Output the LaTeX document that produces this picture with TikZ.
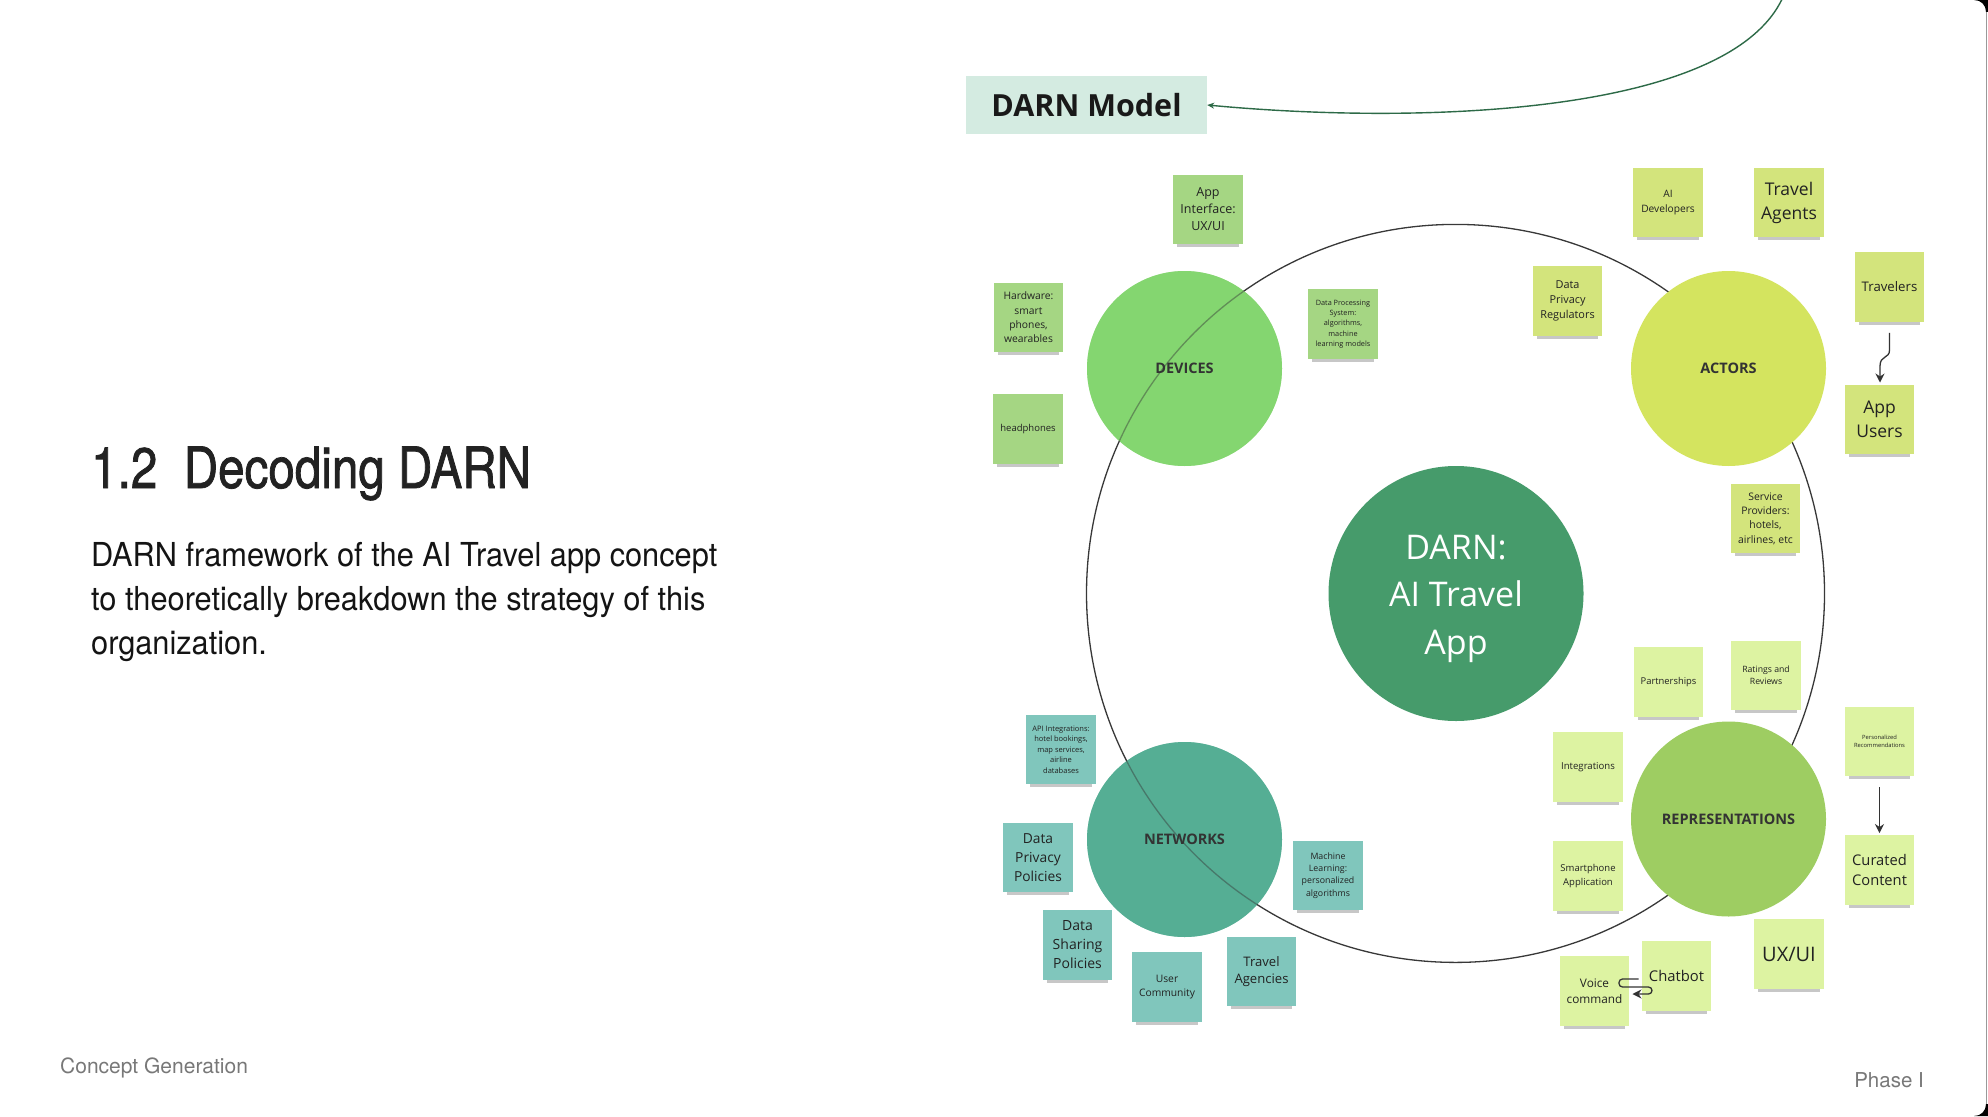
\documentclass[tikz,border=0pt]{standalone}
\usepackage{fontspec}
\setmainfont{Open Sans}
\newfontfamily\headfont[FakeStretch=0.835,FakeBold=1.3]{TeX Gyre Heros}
\newfontfamily\bodyfont[FakeStretch=0.932]{TeX Gyre Heros}
\newfontfamily\footfont{TeX Gyre Heros}
\usetikzlibrary{shadows,arrows.meta,calc}
\definecolor{devc}{RGB}{132,214,112}
\definecolor{actc}{RGB}{212,228,95}
\definecolor{netc}{RGB}{85,174,148}
\definecolor{repc}{RGB}{158,205,98}
\definecolor{darnc}{RGB}{70,155,107}
\definecolor{devs}{RGB}{165,214,131}
\definecolor{acts}{RGB}{211,228,124}
\definecolor{nets}{RGB}{128,198,188}
\definecolor{reps}{RGB}{221,243,162}
\definecolor{dmbox}{RGB}{212,235,225}
\definecolor{curvec}{RGB}{45,106,71}
\definecolor{inkc}{RGB}{34,34,34}
\definecolor{footc}{RGB}{120,120,120}
\newcommand{\stfs}[2]{\fontsize{#1}{#2}\selectfont}
\begin{document}
\begin{tikzpicture}[x=1pt,y=-1pt,
  sticky/.style={rectangle, minimum width=69.5pt, minimum height=69.5pt, inner sep=1pt,
    align=center, text=inkc,
    drop shadow={shadow xshift=0pt, shadow yshift=-8pt, shadow scale=0.88, opacity=0.22, fill=black}},
  hub/.style={circle, minimum size=195pt, inner sep=0pt, text=black!80,
    font=\bfseries\stfs{14.5}{17}},
  blackarr/.style={draw=black!80, line width=1.3pt, -{Stealth[length=9pt,width=9pt]}},
  curvearr/.style={draw=curvec, line width=1.4pt, -{Stealth[length=7pt,width=6pt]}}
]
\useasboundingbox (0,0) rectangle (1988,1116);
\fill[white] (0,0) rectangle (1988,1116);
% slide edge
\draw[black!40, line width=1pt] (1986.5,12) -- (1986.5,1104);
\fill[black] (1974,0) -- (1988,0) -- (1988,12) -- (1986,12) .. controls (1986,5) and (1981,0) .. (1974,0) -- cycle;
\fill[black] (1974,1116) -- (1988,1116) -- (1988,1104) -- (1986,1104) .. controls (1986,1111) and (1981,1116) .. (1974,1116) -- cycle;

% left texts
\node[anchor=base west, inner sep=0pt, text=inkc, font=\headfont\stfs{57}{60}] (title) at (91,488) {1.2\ \ Decoding DARN};
\node[anchor=base west, inner sep=0pt, align=left, text=black!92, font=\bodyfont\stfs{33}{44}] (body) at (91,654)
  {DARN framework of the AI Travel app concept\\to theoretically breakdown the strategy of this\\organization.};
\node[anchor=base west, inner sep=0pt, text=footc, font=\footfont\stfs{21}{24}] (foot) at (60,1073) {Concept Generation};
\node[anchor=base east, inner sep=0pt, text=footc, font=\footfont\stfs{20.5}{24}] (phase) at (1924,1087) {Phase I};

% DARN Model box and curve
\node[fill=dmbox, minimum width=241pt, minimum height=58pt, inner sep=0pt, text=black!90,
  font=\bfseries\stfs{30.5}{34}] (dm) at (1086.5,105) {DARN Model};
\coordinate (topin) at (1783,-3);
\draw[curvearr] (topin) .. controls (1730,115) and (1420,125) .. (dm.east);

% hub circles under the ring
\fill[devc] (1184.5,368.5) circle[radius=97.5];
\fill[netc] (1184.5,839.5) circle[radius=97.5];
\draw[black!78, line width=1.3pt] (1455.5,593.4) circle[radius=369];
\node[hub, fill=devc, fill opacity=0.55, text opacity=1] (dev) at (1184.5,368.5) {DEVICES};
\node[hub, fill=netc, fill opacity=0.55, text opacity=1] (net) at (1184.5,839.5) {NETWORKS};
\node[hub, fill=actc] (act) at (1728.5,368.5) {ACTORS};
\node[hub, fill=repc] (rep) at (1728.5,819) {REPRESENTATIONS};
\fill[darnc] (1456,593.5) circle[radius=127.5];
\node[inner sep=0pt, text=white, align=center,
  font=\stfs{34}{47.5}] (darn) at (1456,598.5) {DARN:\\AI Travel\\App};

% DEVICES stickies
\node[sticky, fill=devs, font=\stfs{12.5}{17}] (appif) at (1208,209.5) {App\\Interface:\\UX/UI};
\node[sticky, fill=devs, font=\stfs{10.3}{14.4}] (hw) at (1028.5,317.5) {Hardware:\\smart\\phones,\\wearables};
\node[sticky, fill=devs, font=\stfs{9.5}{12}] (hp) at (1028,429) {headphones};
\node[sticky, fill=devs, font=\stfs{7.3}{10.3}] (dps) at (1343,324) {Data Processing\\System:\\algorithms,\\machine\\learning models};

% ACTORS stickies
\node[sticky, fill=acts, font=\stfs{10.2}{14.3}] (aidev) at (1668,202.5) {AI\\Developers};
\node[sticky, fill=acts, font=\stfs{17.5}{24}] (tagents) at (1789,202.5) {Travel\\Agents};
\node[sticky, fill=acts, font=\stfs{10.9}{15.2}] (dpr) at (1567.5,301) {Data\\Privacy\\Regulators};
\node[sticky, fill=acts, font=\stfs{13.2}{16}] (trav) at (1889.5,287) {Travelers};
\node[sticky, fill=acts, font=\stfs{17.5}{23.7}] (appu) at (1879.5,419.5) {App\\Users};
\node[sticky, fill=acts, font=\stfs{10.4}{14.4}] (sprov) at (1765.5,518.5) {Service\\Providers:\\hotels,\\airlines, etc};
\draw[blackarr] ($(trav.south)+(0,11)$) -- (1889.5,350) .. controls (1889.5,359) and (1880,355) .. (1880,366) -- ($(appu.north)+(0.5,-2)$);

% NETWORKS stickies
\node[sticky, fill=nets, font=\stfs{7.5}{10.4}] (api) at (1061,749.5) {API Integrations:\\hotel bookings,\\map services,\\airline\\databases};
\node[sticky, fill=nets, font=\stfs{13.8}{19}] (dpp) at (1038,857.5) {Data\\Privacy\\Policies};
\node[sticky, fill=nets, font=\stfs{14}{19}] (dsp) at (1077.5,945) {Data\\Sharing\\Policies};
\node[sticky, fill=nets, font=\stfs{10.3}{14.7}] (ucom) at (1167,987) {User\\Community};
\node[sticky, fill=nets, font=\stfs{13.1}{17.7}] (tag) at (1261.5,971.5) {Travel\\Agencies};
\node[sticky, fill=nets, font=\stfs{8.8}{12.2}] (mlearn) at (1328,875.5) {Machine\\Learning:\\personalized\\algorithms};

% REPRESENTATIONS stickies
\node[sticky, fill=reps, font=\stfs{9.4}{12}] (part) at (1668.5,682) {Partnerships};
\node[sticky, fill=reps, font=\stfs{8.7}{12}] (rr) at (1766,675.5) {Ratings and\\Reviews};
\node[sticky, fill=reps, font=\stfs{9.6}{12}] (integ) at (1588,767) {Integrations};
\node[sticky, fill=reps, font=\stfs{9.5}{13.3}] (sma) at (1588,876) {Smartphone\\Application};
\node[sticky, fill=reps, font=\stfs{5.8}{8}] (pers) at (1879.5,741.5) {Personalized\\Recommendations};
\node[sticky, fill=reps, font=\stfs{14.7}{20.3}] (cur) at (1879.5,870) {Curated\\Content};
\node[sticky, fill=reps, font=\stfs{20}{24}] (uxui) at (1789,954) {UX/UI};
\node[sticky, fill=reps, font=\stfs{14.8}{18}] (chat) at (1676.5,976) {Chatbot};
\node[sticky, fill=reps, font=\stfs{11.8}{16.3}] (voice) at (1594.5,991) {Voice\\command};
\draw[blackarr] ($(pers.south)+(0,11)$) -- ($(cur.north)+(0,-2)$);
\draw[blackarr, rounded corners=3.5pt] ($(chat.west)+(-3,3)$) -- (1619,979) -- (1619,987) -- (1652,987) -- (1652,994) -- ($(voice.east)+(3,3)$);
\end{tikzpicture}
\end{document}
